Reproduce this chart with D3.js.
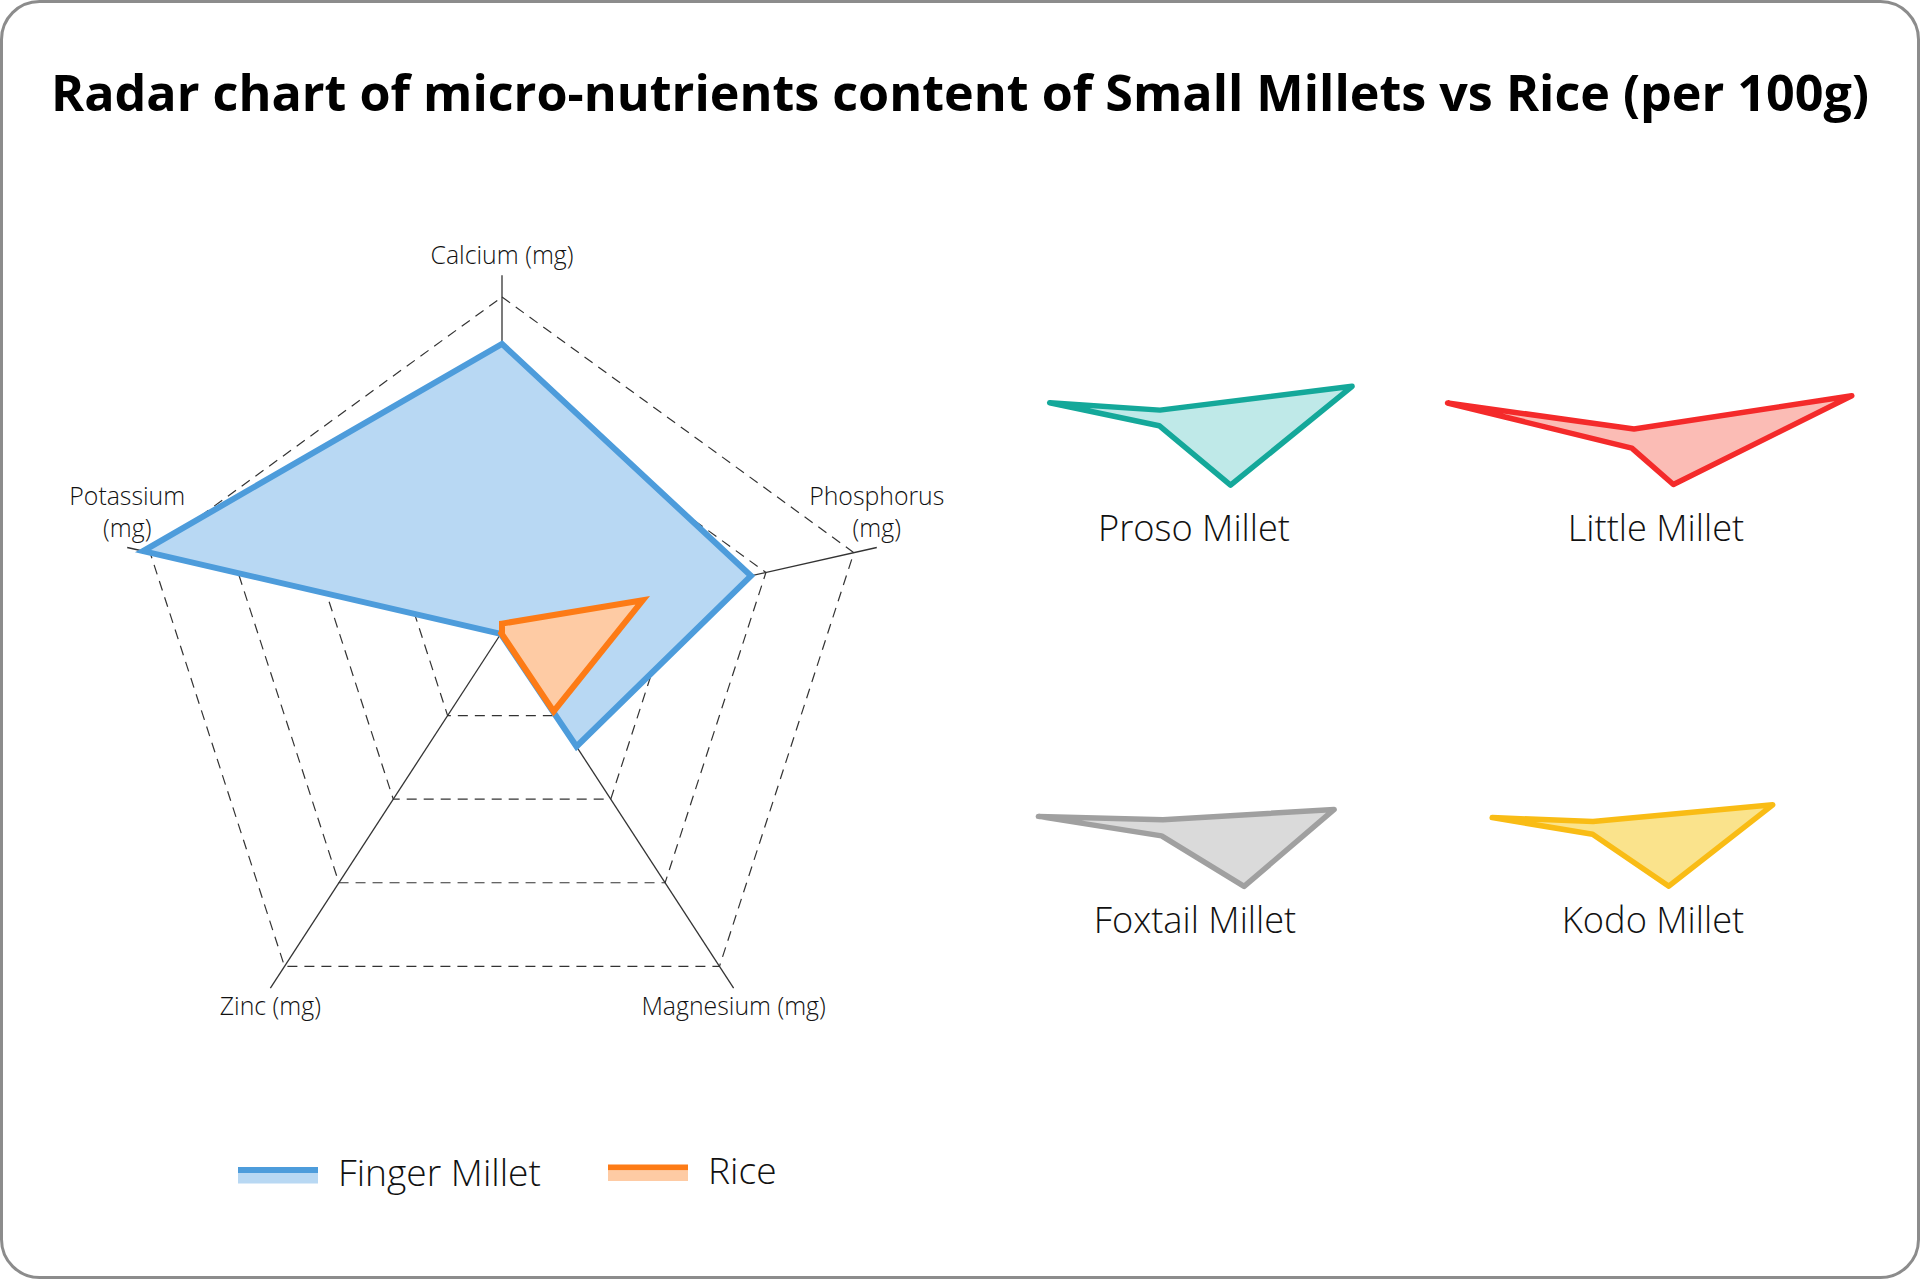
<!DOCTYPE html>
<html>
<head>
<meta charset="utf-8">
<script src="https://cdn.jsdelivr.net/npm/d3@7"></script>
<style>
  html, body { margin: 0; padding: 0; background: #fff; }
  svg { display: block; }
  text { font-family: 'Open Sans', 'Liberation Sans', sans-serif; fill: #111; }
</style>
</head>
<body>
<svg id="chart" width="1920" height="1279"></svg>
<script>
// data (mg per 100g)
const axes = ["Calcium (mg)", "Phosphorus (mg)", "Magnesium (mg)", "Zinc (mg)", "Potassium (mg)"];
const ticks = [100, 200, 300, 400];
const fingerMillet = [344, 283, 137, 2.3, 408];
const rice = [10, 160, 95, 1.4, 0];
const miniNames = ["Proso Millet", "Little Millet", "Foxtail Millet", "Kodo Millet"];
const proso = [24, 202, 120, 1.4, 116];
const little = [24, 229, 67, 3.7, 196];
const foxtail = [33, 180, 138, 2.4, 131];
const kodo = [25, 189, 129, 0.7, 106];

const W = 1920, H = 1279;
const svg = d3.select("#chart");

// card
svg.append("rect")
    .attr("x", 1.5).attr("y", 1.5)
    .attr("width", W - 3).attr("height", H - 3)
    .attr("rx", 38)
    .attr("fill", "#fff")
    .attr("stroke", "#8c8c8c")
    .attr("stroke-width", 3);

// shrink/grow a text so it spans the given width
function fit(sel, width) {
    const fs = parseFloat(sel.attr("font-size"));
    const w = sel.node().getComputedTextLength();
    const nfs = fs * width / w;
    sel.attr("font-size", nfs);
    return nfs;
}

const title = svg.append("text")
    .attr("x", W / 2).attr("y", 111)
    .attr("text-anchor", "middle")
    .attr("font-size", 46)
    .attr("font-weight", 700)
    .style("fill", "#000")
    .text("Radar chart of micro-nutrients content of Small Millets vs Rice (per 100g)");
fit(title, 1818);

// ---- main radar ----
const angles = axes.map((d, i) => Math.PI / 2 - i * 2 * Math.PI / 5);
const center = { x: 502, y: 667 }, R = 370;
const origin = { x: 502, y: 632 };   // data origin sits above the grid centre
const vert = angles.map(a => ({ x: center.x + R * Math.cos(a), y: center.y - R * Math.sin(a) }));
const r = d3.scaleLinear().domain([0, 400]).range([0, 1]);

function pt(i, v) {
    const k = r(v);
    return [origin.x + k * (vert[i].x - origin.x), origin.y + k * (vert[i].y - origin.y)];
}

const closed = d3.line().curve(d3.curveLinearClosed);
const main = svg.append("g");

main.selectAll("path.grid")
    .data(ticks)
    .join("path")
    .attr("class", "grid")
    .attr("d", t => closed(axes.map((d, i) => pt(i, t))))
    .attr("fill", "none")
    .attr("stroke", "#333")
    .attr("stroke-width", 1.2)
    .attr("stroke-dasharray", "10,7");

main.selectAll("line.axis")
    .data(axes)
    .join("line")
    .attr("class", "axis")
    .attr("x1", origin.x).attr("y1", origin.y)
    .attr("x2", (d, i) => pt(i, 426)[0])
    .attr("y2", (d, i) => pt(i, 426)[1])
    .attr("stroke", "#333")
    .attr("stroke-width", 1.3);

const series = [
    { name: "Finger Millet", values: fingerMillet, stroke: "#4d9cdb", fill: "#b8d8f3" },
    { name: "Rice", values: rice, stroke: "#fd7b16", fill: "#fecba4" }
];

main.selectAll("path.series")
    .data(series)
    .join("path")
    .attr("class", "series")
    .attr("d", s => closed(s.values.map((v, i) => pt(i, v))))
    .attr("fill", s => s.fill)
    .attr("stroke", s => s.stroke)
    .attr("stroke-width", 6)
    .attr("stroke-linejoin", "miter");

// axis labels: top one above, bottom ones below, side ones wrapped on two lines
const labelLines = [];
axes.forEach((d, i) => {
    const end = pt(i, 426);
    const s = Math.sin(angles[i]);
    if (s > 0.9) labelLines.push({ text: d, x: end[0], y: end[1] - 11 });
    else if (s < 0) labelLines.push({ text: d, x: end[0], y: end[1] + 27 });
    else {
        const parts = d.split(" ");
        labelLines.push({ text: parts[0], x: end[0], y: end[1] - 43 });
        labelLines.push({ text: parts[1], x: end[0], y: end[1] - 11 });
    }
});
const labels = main.selectAll("text.axislabel")
    .data(labelLines)
    .join("text")
    .attr("class", "axislabel")
    .attr("text-anchor", "middle")
    .attr("x", d => d.x)
    .attr("y", d => d.y)
    .attr("font-size", 20)
    .attr("font-weight", 300)
    .text(d => d.text);
const axisFs = fit(labels.filter((d, i) => i === 0), 143);
labels.attr("font-size", axisFs);

// legend
const legend = svg.append("g");
const legendPos = [[238, 1167], [608, 1164.5]];
series.forEach((s, i) => {
    const [x, y] = legendPos[i];
    legend.append("rect").attr("x", x).attr("y", y).attr("width", 80).attr("height", 6).attr("fill", s.stroke);
    legend.append("rect").attr("x", x).attr("y", y + 6).attr("width", 80).attr("height", 10.5).attr("fill", s.fill);
});
const legText = legend.selectAll("text")
    .data(series)
    .join("text")
    .attr("x", (s, i) => legendPos[i][0] + 100)
    .attr("y", (s, i) => legendPos[i][1] + 19)
    .attr("font-size", 32)
    .attr("font-weight", 300)
    .text(s => s.name);
const legFs = fit(legText.filter((d, i) => i === 0), 203);
legText.attr("font-size", legFs);

// ---- small multiples: tilted radars ----
const minis = [
    { name: miniNames[0], values: proso, stroke: "#14a89a", fill: "#bfe9e8" },
    { name: miniNames[1], values: little, stroke: "#f42a2a", fill: "#fbbcb5" },
    { name: miniNames[2], values: foxtail, stroke: "#a0a0a0", fill: "#dadada" },
    { name: miniNames[3], values: kodo, stroke: "#f9bc15", fill: "#fae38c" }
];
const mr = d3.scaleLinear().domain([0, 400]).range([0, 400]);
const panelTilt = [0.62, 0.71, 0.46, 0.50];
const panelOrigin = [[1160, 425], [1634, 446], [1163, 835], [1593, 834]];
const panelLabel = [[1194, 541], [1656, 541], [1195, 933], [1653, 933]];

function mpt(j, i, v) {
    const a = angles[i], o = panelOrigin[j];
    return [o[0] + mr(v) * Math.cos(a), o[1] - mr(v) * Math.sin(a) * panelTilt[j]];
}

const panels = svg.selectAll("g.mini")
    .data(minis)
    .join("g")
    .attr("class", "mini");

panels.append("path")
    .attr("d", (m, j) => closed(m.values.map((v, i) => mpt(j, i, v))))
    .attr("fill", m => m.fill)
    .attr("stroke", m => m.stroke)
    .attr("stroke-width", 5.5)
    .attr("stroke-linejoin", "round");

const miniText = panels.append("text")
    .attr("x", (m, j) => panelLabel[j][0])
    .attr("y", (m, j) => panelLabel[j][1])
    .attr("text-anchor", "middle")
    .attr("font-size", 32)
    .attr("font-weight", 300)
    .text(m => m.name);
const miniFs = fit(miniText.filter((d, i) => i === 0), 192);
miniText.attr("font-size", miniFs);
</script>
</body>
</html>
